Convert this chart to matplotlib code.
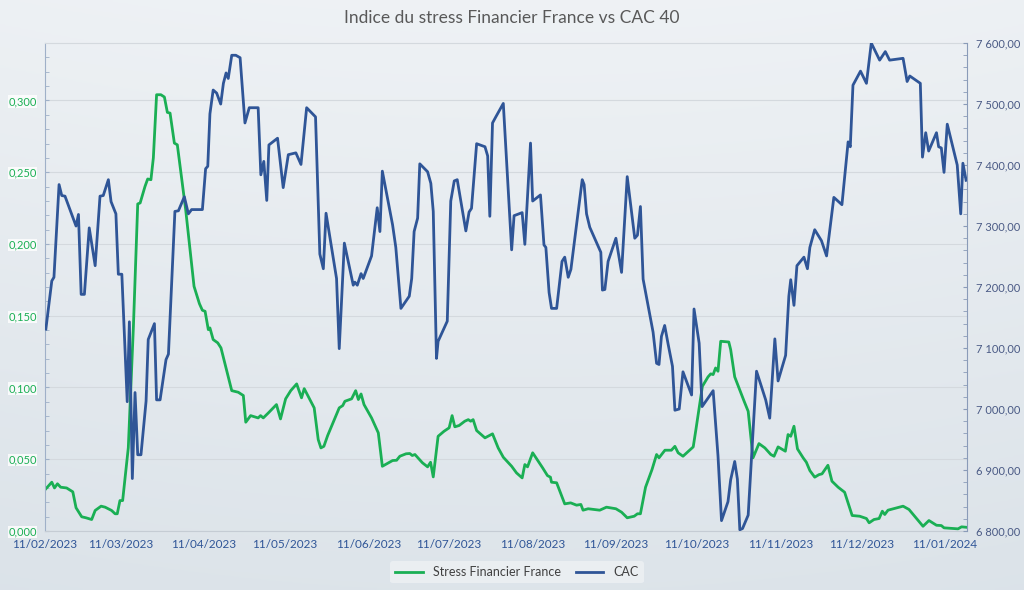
import matplotlib as mpl
mpl.use('Agg')

import numpy as np
import pandas as pd
import matplotlib.pyplot as plt
from matplotlib.ticker import FuncFormatter, MultipleLocator

plt.rcParams['font.family'] = ['Lato', 'DejaVu Sans']

debut = pd.Timestamp('2023-02-11')

# jours depuis le 11/02/2023
jours_stress = [0.3, 2.5, 3.5, 4.6, 5.8, 8.0, 10.3, 11.5, 13.6, 15.2,
                17.3, 18.6, 20.8, 22.3, 24.7, 26.0, 26.8, 27.8, 28.8, 30.9,
                32.8, 34.4, 35.3, 37.1, 38.1, 39.3, 40.2, 41.4, 43.0, 44.3,
                45.4, 46.4, 48.0, 49.1, 52.2, 55.3, 57.3, 58.4, 59.4, 60.6,
                61.2, 62.4, 64.1, 65.3, 69.3, 71.7, 73.6, 74.5, 76.3, 79.1,
                80.0, 81.0, 82.9, 85.9, 87.4, 89.3, 91.2, 93.4, 95.2, 96.2,
                99.9, 101.4, 102.4, 103.5, 104.9, 109.2, 110.5, 111.3, 113.8, 115.3,
                116.3, 117.3, 118.4, 121.2, 123.7, 125.2, 129.0, 130.5, 131.7, 134.0,
                135.4, 136.3, 137.3, 140.1, 142.0, 143.1, 144.1, 145.9, 148.1, 150.0,
                151.1, 152.1, 153.7, 155.8, 157.1, 158.0, 158.9, 160.2, 163.3, 166.1,
                168.2, 170.1, 173.2, 175.0, 177.1, 178.1, 179.1, 181.0, 184.7, 186.5,
                187.6, 188.0, 189.9, 191.1, 192.9, 195.1, 197.3, 198.9, 199.7, 201.6,
                205.9, 208.4, 211.9, 214.0, 216.1, 218.7, 219.9, 221.0, 222.9, 225.3,
                227.0, 227.9, 230.1, 232.5, 233.8, 235.0, 236.8, 240.6, 241.6, 244.0,
                246.1, 247.1, 248.0, 248.9, 249.8, 250.8, 253.8, 254.5, 256.0, 259.5,
                261.0, 261.9, 262.8, 265.0, 267.2, 269.4, 270.6, 272.1, 274.8, 275.8,
                276.8, 278.0, 279.3, 281.4, 282.6, 283.9, 285.7, 287.3, 288.4, 290.6,
                292.1, 294.4, 296.8, 299.6, 302.4, 304.9, 305.9, 307.7, 309.6, 310.8,
                311.7, 312.9, 318.5, 320.7, 325.9, 328.1, 330.9, 332.7, 333.7, 338.9,
                340.2, 341.9]
stress = [0.0294, 0.0340, 0.0300, 0.0329, 0.0305, 0.0300, 0.0273, 0.0162, 0.0099, 0.0092,
          0.0080, 0.0143, 0.0173, 0.0166, 0.0143, 0.0120, 0.0120, 0.0212, 0.0212, 0.0580,
          0.1426, 0.2279, 0.2286, 0.2401, 0.2453, 0.2448, 0.2600, 0.3040, 0.3040, 0.3024,
          0.2917, 0.2912, 0.2703, 0.2691, 0.2239, 0.1705, 0.1584, 0.1538, 0.1531, 0.1403,
          0.1415, 0.1334, 0.1311, 0.1276, 0.0978, 0.0967, 0.0944, 0.0758, 0.0804, 0.0788,
          0.0804, 0.0788, 0.0823, 0.0881, 0.0781, 0.0921, 0.0978, 0.1025, 0.0928, 0.0992,
          0.0858, 0.0637, 0.0579, 0.0590, 0.0665, 0.0858, 0.0874, 0.0904, 0.0921, 0.0978,
          0.0916, 0.0955, 0.0881, 0.0788, 0.0684, 0.0451, 0.0491, 0.0493, 0.0521, 0.0538,
          0.0540, 0.0526, 0.0533, 0.0475, 0.0447, 0.0479, 0.0377, 0.0660, 0.0695, 0.0719,
          0.0804, 0.0726, 0.0735, 0.0765, 0.0776, 0.0765, 0.0776, 0.0700, 0.0649, 0.0677,
          0.0579, 0.0514, 0.0451, 0.0405, 0.0370, 0.0463, 0.0447, 0.0545, 0.0440, 0.0386,
          0.0375, 0.0340, 0.0336, 0.0277, 0.0189, 0.0196, 0.0180, 0.0185, 0.0145, 0.0155,
          0.0145, 0.0166, 0.0155, 0.0131, 0.0092, 0.0103, 0.0120, 0.0120, 0.0305, 0.0428,
          0.0533, 0.0510, 0.0563, 0.0563, 0.0590, 0.0545, 0.0521, 0.0586, 0.0707, 0.1008,
          0.1074, 0.1095, 0.1090, 0.1136, 0.1113, 0.1322, 0.1317, 0.1264, 0.1074, 0.0904,
          0.0834, 0.0672, 0.0510, 0.0609, 0.0579, 0.0533, 0.0521, 0.0586, 0.0556, 0.0672,
          0.0660, 0.0730, 0.0572, 0.0510, 0.0479, 0.0421, 0.0375, 0.0393, 0.0398, 0.0458,
          0.0347, 0.0305, 0.0270, 0.0108, 0.0103, 0.0087, 0.0057, 0.0080, 0.0087, 0.0138,
          0.0115, 0.0145, 0.0173, 0.0150, 0.0033, 0.0073, 0.0040, 0.0038, 0.0022, 0.0015,
          0.0029, 0.0026]

jours_cac = [0.3, 2.5, 3.3, 5.2, 6.2, 7.4, 11.5, 12.4, 13.4, 14.6,
             16.4, 18.6, 20.4, 21.6, 23.5, 24.5, 26.3, 27.2, 28.5, 30.5,
             31.3, 32.4, 33.4, 34.4, 35.6, 37.5, 38.3, 40.6, 41.4, 42.7,
             44.9, 45.8, 48.2, 49.5, 51.7, 53.2, 54.4, 58.4, 59.6, 60.4,
             61.2, 62.4, 63.7, 65.2, 66.2, 67.2, 68.0, 69.3, 70.8, 72.4,
             74.2, 75.8, 79.1, 80.1, 81.2, 82.3, 83.1, 86.3, 88.4, 90.3,
             93.1, 95.0, 97.1, 100.4, 102.0, 103.3, 104.3, 108.2, 109.2, 111.1,
             114.4, 115.0, 115.9, 117.3, 118.1, 121.2, 123.3, 124.3, 125.2, 129.0,
             130.2, 132.1, 135.2, 136.1, 137.0, 138.3, 139.1, 142.0, 143.2, 144.1,
             145.3, 145.9, 149.3, 150.6, 151.9, 153.0, 156.2, 157.4, 158.3, 160.2,
             163.3, 164.3, 165.1, 166.1, 167.2, 170.1, 173.2, 174.1, 177.1, 178.1,
             180.2, 181.0, 183.9, 185.2, 185.9, 187.1, 188.0, 189.9, 191.9, 192.9,
             194.2, 195.2, 197.9, 199.4, 200.1, 201.0, 202.2, 206.3, 206.9, 207.8,
             209.0, 211.9, 214.0, 216.1, 218.9, 219.9, 221.0, 222.0, 225.7, 227.0,
             227.9, 228.8, 230.0, 231.3, 232.9, 233.8, 235.4, 236.8, 240.0, 240.9,
             242.8, 243.9, 248.0, 249.8, 251.1, 253.5, 254.5, 256.0, 257.0, 257.9,
             258.9, 261.0, 264.1, 267.5, 269.0, 270.9, 272.1, 274.9, 276.1, 276.8,
             278.0, 279.1, 281.7, 283.0, 283.9, 285.7, 288.2, 290.1, 292.8, 295.8,
             298.1, 298.9, 299.9, 302.7, 304.9, 306.7, 309.8, 311.9, 313.5, 318.5,
             320.0, 321.0, 324.9, 325.7, 326.9, 328.0, 330.9, 331.7, 332.7, 333.7,
             334.9, 338.6, 339.9, 340.7, 341.9]
cac = [7131, 7210, 7216, 7368, 7350, 7349, 7300, 7319, 7188, 7188,
       7297, 7235, 7349, 7350, 7376, 7340, 7320, 7221, 7221, 7012,
       7143, 6886, 7027, 6925, 6925, 7013, 7114, 7140, 7015, 7015,
       7081, 7090, 7324, 7325, 7348, 7320, 7327, 7327, 7394, 7398,
       7484, 7523, 7518, 7500, 7534, 7551, 7542, 7580, 7580, 7576,
       7469, 7494, 7494, 7384, 7406, 7342, 7433, 7444, 7363, 7417,
       7420, 7401, 7494, 7479, 7254, 7230, 7321, 7214, 7099, 7272,
       7203, 7208, 7203, 7222, 7214, 7251, 7330, 7291, 7390, 7302,
       7265, 7165, 7185, 7214, 7291, 7313, 7402, 7389, 7370, 7324,
       7083, 7111, 7144, 7341, 7374, 7376, 7292, 7323, 7329, 7435,
       7430, 7415, 7316, 7469, 7478, 7501, 7261, 7317, 7322, 7270,
       7436, 7341, 7351, 7269, 7265, 7191, 7165, 7165, 7242, 7249,
       7216, 7229, 7324, 7376, 7368, 7320, 7298, 7257, 7195, 7196,
       7242, 7280, 7224, 7381, 7280, 7285, 7332, 7213, 7126, 7075,
       7073, 7119, 7137, 7106, 7070, 6998, 7000, 7061, 7023, 7164,
       7108, 7004, 7030, 6923, 6817, 6848, 6884, 6914, 6885, 6802,
       6804, 6826, 7062, 7015, 6985, 7115, 7046, 7088, 7185, 7212,
       7170, 7235, 7249, 7230, 7265, 7294, 7276, 7251, 7347, 7335,
       7438, 7430, 7531, 7554, 7534, 7600, 7572, 7586, 7572, 7575,
       7537, 7546, 7534, 7413, 7453, 7423, 7453, 7430, 7428, 7388,
       7467, 7400, 7320, 7403, 7375]

mois = pd.date_range('2023-02-11', periods=12, freq=pd.DateOffset(months=1))

dates_stress = debut + pd.to_timedelta(jours_stress, unit='D')
dates_cac = debut + pd.to_timedelta(jours_cac, unit='D')

fig = plt.figure(figsize=(10.24, 5.9), dpi=100)

# fond degrade gris bleute
fond = fig.add_axes([0, 0, 1, 1], zorder=-10)
yy, xx = np.mgrid[0:1:200j, 0:1:200j]
haut = np.array([0.935, 0.948, 0.960])
bas = np.array([0.855, 0.885, 0.910])
t = np.clip(yy * 0.85 + (xx - 0.5) ** 2 * 0.3, 0, 1)[..., None]
fond.imshow(haut * (1 - t) + bas * t, aspect='auto', extent=(0, 1, 0, 1), origin='upper')
fond.axis('off')

ax = fig.add_axes([0.044, 0.1, 0.9, 0.827])
ax.patch.set_alpha(0)
ax2 = ax.twinx()

ax.plot(dates_stress, stress, color='#1aaf54', lw=2, label='Stress Financier France')
ax2.plot(dates_cac, cac, color='#2f5597', lw=2, label='CAC')

ax.set_xlim(debut, debut + pd.Timedelta(days=342.1))
ax.set_ylim(0, 0.34)
ax2.set_ylim(6800, 7600)

ax.yaxis.set_major_locator(MultipleLocator(0.05))
ax.yaxis.set_minor_locator(MultipleLocator(0.01))
ax2.yaxis.set_major_locator(MultipleLocator(100))
ax2.yaxis.set_minor_locator(MultipleLocator(20))
ax.yaxis.set_major_formatter(FuncFormatter(lambda v, p: f"{v:.3f}".replace('.', ',')))
ax2.yaxis.set_major_formatter(FuncFormatter(
    lambda v, p: f"{v:,.2f}".replace(',', ' ').replace('.', ',')))

ax.set_xticks(mois)
ax.set_xticklabels([d.strftime('%d/%m/%Y') for d in mois])

ax.grid(axis='y', which='major', color='#d4d9de', lw=0.8)
ax.set_axisbelow(True)

for a in (ax, ax2):
    for s in a.spines.values():
        s.set_visible(False)
ax.spines['left'].set_visible(True)
ax.spines['left'].set_color('#9fb0c8')
ax.spines['bottom'].set_visible(True)
ax.spines['bottom'].set_color('#c5ccd4')
ax.spines['top'].set_visible(True)
ax.spines['top'].set_color('#d4d9de')
ax.spines['top'].set_linewidth(0.8)
ax2.spines['right'].set_visible(True)
ax2.spines['right'].set_color('#8a9bb8')

ax.tick_params(axis='y', which='both', direction='in', length=3, color='#9fb0c8',
               labelsize=8, labelcolor='#1aaf54', pad=6)
ax2.tick_params(axis='y', which='both', direction='in', length=3, color='#8a9bb8',
                labelsize=8, labelcolor='#4a5a85', pad=7)
ax.tick_params(axis='x', length=0, labelsize=8.5, labelcolor='#2f5597', pad=6)
for lab in ax.get_yticklabels():
    lab.set_bbox(dict(facecolor='white', edgecolor='none', pad=0.5, alpha=0.8))

fig.text(0.5, 1 - 18 / 590, 'Indice du stress Financier France vs CAC 40',
         ha='center', va='center', fontsize=12.5, color='#595959')

h1, l1 = ax.get_legend_handles_labels()
h2, l2 = ax2.get_legend_handles_labels()
leg = fig.legend(h1 + h2, l1 + l2, loc='center', bbox_to_anchor=(0.505, 1 - 572 / 590),
                 ncol=2, fontsize=9, frameon=True, facecolor='#eef1f4', edgecolor='none',
                 handlelength=2.2, columnspacing=1.2, borderpad=0.4)
for txt in leg.get_texts():
    txt.set_color('#404040')

fig.savefig('out.png', dpi=100)
